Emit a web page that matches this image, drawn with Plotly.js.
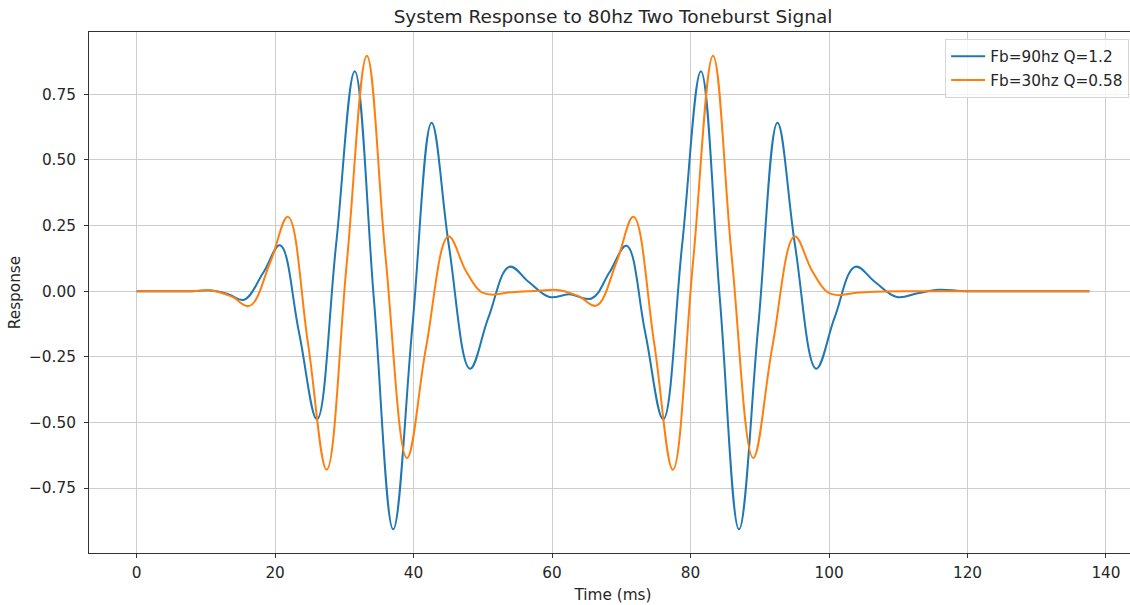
<!DOCTYPE html>
<html>
<head>
<meta charset="utf-8">
<script src="https://cdn.plot.ly/plotly-3.0.1.min.js"></script>
<style>
  html, body { margin: 0; padding: 0; overflow: hidden; background: #ffffff; }
  #chart { width: 1140px; height: 605px; }
</style>
</head>
<body>
<div id="chart"></div>
<script>
// Response of two bass-reflex alignments to an 80 Hz two-toneburst test signal.
// Samples: time in ms, response (normalised): turning points plus the
// mid-swing point of each half cycle.

const timeFb90 = [0, 8, 10.8, 13.3, 15.5, 18.3, 20.7, 23.45, 26.05, 28.8, 31.5, 34.28,
  37.05, 39.83, 42.6, 45.1, 48.15, 50.8, 53.85, 56.6, 59.6, 62.5, 65.7, 68.3,
  70.75, 73.45, 76.05, 78.78, 81.5, 84.25, 87.0, 89.78, 92.55, 95.1, 98.15, 100.8,
  103.8, 106.6, 109.8, 112.8, 115.8, 119.0, 122.0, 137.6];
const respFb90 = [0, 0, 0.003, -0.012, -0.033, 0.071, 0.175, -0.157, -0.488, 0.175, 0.838, -0.035,
  -0.907, -0.133, 0.641, 0.173, -0.295, -0.101, 0.093, 0.036, -0.022, -0.012, -0.028, 0.072,
  0.173, -0.157, -0.488, 0.175, 0.838, -0.035, -0.907, -0.133, 0.641, 0.173, -0.295, -0.101,
  0.093, 0.036, -0.022, -0.008, 0.005, 0.001, 0, 0];

const timeFb30 = [0, 8, 10.8, 13.7, 16.3, 19.35, 21.85, 24.75, 27.45, 30.35, 33.25, 35.95,
  39.05, 41.8, 45.05, 47.5, 49.6, 51.2, 54.0, 58.0, 61.1, 63.9, 66.4, 69.35,
  71.75, 74.75, 77.45, 80.35, 83.25, 85.95, 89.05, 91.8, 95.05, 97.5, 99.6, 101.2,
  104.0, 108.0, 112.0, 137.6];
const respFb30 = [0, 0, 0.003, -0.020, -0.056, 0.114, 0.283, -0.199, -0.680, 0.108, 0.897, 0.131,
  -0.635, -0.214, 0.208, 0.080, 0, -0.013, -0.004, 0.002, 0.004, -0.020, -0.055, 0.114,
  0.283, -0.199, -0.680, 0.108, 0.897, 0.131, -0.635, -0.214, 0.208, 0.080, 0, -0.015,
  -0.006, -0.001, 0, 0];

const seriesNames = ['Fb=90hz Q=1.2', 'Fb=30hz Q=0.58'];
const xTicks = [0, 20, 40, 60, 80, 100, 120, 140];
const yTicks = [-1.0, -0.75, -0.5, -0.25, 0, 0.25, 0.5, 0.75];
const yTickText = ['\u22121.00', '\u22120.75', '\u22120.50', '\u22120.25', '0.00', '0.25', '0.50', '0.75'];

const FONT = 'DejaVu Sans, Liberation Sans, sans-serif';
const INK = '#262626';
const SMALL = 15.3;

const traces = [
  {
    x: timeFb90, y: respFb90, name: seriesNames[0], type: 'scatter', mode: 'lines',
    legendgroup: 'a',
    line: { color: '#1f77b4', width: 2, shape: 'spline', smoothing: 1.1 }
  },
  {
    x: timeFb30, y: respFb30, name: seriesNames[1], type: 'scatter', mode: 'lines',
    legendgroup: 'b',
    line: { color: '#ff7f0e', width: 2, shape: 'spline', smoothing: 1.1 }
  }
];

const axisCommon = {
  showgrid: true, gridcolor: '#cdcdcd', gridwidth: 1,
  zeroline: false,
  showline: true, linecolor: '#333333', linewidth: 1, mirror: true,
  ticks: 'outside', ticklen: 4, tickwidth: 1, tickcolor: '#333333',
  tickfont: { family: FONT, size: SMALL, color: INK }
};

const layout = {
  width: 1140, height: 605,
  margin: { l: 89, r: 3, t: 32, b: 52 },
  paper_bgcolor: '#ffffff', plot_bgcolor: '#ffffff',
  font: { family: FONT, size: SMALL, color: INK },
  title: {
    text: 'System Response to 80hz Two Toneburst Signal',
    font: { family: FONT, size: 18.5, color: INK },
    x: 0.5, xref: 'paper', xanchor: 'center',
    y: 1 - 16.5 / 605, yref: 'container', yanchor: 'middle'
  },
  xaxis: Object.assign({}, axisCommon, {
    range: [-6.88, 144.48],
    tickmode: 'array', tickvals: xTicks, ticktext: xTicks.map(String),
    ticklabelstandoff: 2,
    title: { text: 'Time (ms)', font: { family: FONT, size: SMALL, color: INK }, standoff: 7 }
  }),
  yaxis: Object.assign({}, axisCommon, {
    range: [-0.997, 0.987],
    tickmode: 'array', tickvals: yTicks, ticktext: yTickText,
    ticklabelstandoff: 5,
    title: { text: 'Response', font: { family: FONT, size: SMALL, color: INK }, standoff: 4 }
  }),
  showlegend: true,
  legend: {
    x: 0.9925, xanchor: 'right', y: 0.987, yanchor: 'top',
    bgcolor: 'rgba(255,255,255,0.8)', bordercolor: '#d6d6d6', borderwidth: 1,
    font: { family: FONT, size: SMALL, color: INK },
    itemwidth: 34,
    traceorder: 'grouped', tracegroupgap: 1
  }
};

Plotly.newPlot('chart', traces, layout, { staticPlot: true, displayModeBar: false });
</script>
</body>
</html>
